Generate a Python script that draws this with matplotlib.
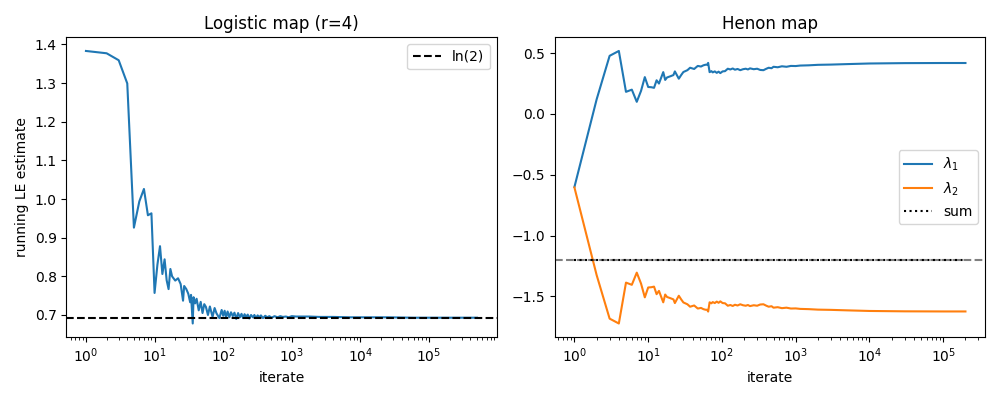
import matplotlib
matplotlib.use("Agg")
import matplotlib.pyplot as plt

# Logistic map (r=4): running Lyapunov exponent estimate
logistic_iter = [1, 2, 3, 4, 5, 6, 7, 8, 9, 10,
                 11, 12, 13, 14, 15, 16, 17, 18, 20, 22,
                 24, 26, 27, 29, 31, 33, 34, 36, 37, 39,
                 41, 44, 47, 50, 53, 56, 60, 64, 70, 75,
                 80, 88, 95, 100, 105, 110, 116, 123, 130, 138,
                 146, 155, 165, 175, 185, 195, 205, 215, 228, 240,
                 255, 270, 285, 300, 318, 335, 355, 380, 410, 440,
                 470, 510, 560, 620, 680, 740, 820, 900, 1000, 1150,
                 1400, 1800, 2500, 4000, 7000, 12000, 25000, 60000, 150000, 300000,
                 500000]
logistic_le = [1.383, 1.377, 1.359, 1.299, 0.926, 0.994, 1.026, 0.958, 0.963, 0.757,
               0.830, 0.878, 0.806, 0.844, 0.790, 0.767, 0.819, 0.800, 0.789, 0.795,
               0.780, 0.737, 0.775, 0.767, 0.755, 0.733, 0.752, 0.678, 0.746, 0.730,
               0.742, 0.712, 0.734, 0.705, 0.728, 0.721, 0.700, 0.722, 0.695, 0.718,
               0.704, 0.692, 0.713, 0.698, 0.711, 0.694, 0.709, 0.694, 0.707, 0.697,
               0.706, 0.690, 0.705, 0.694, 0.703, 0.692, 0.702, 0.695, 0.701, 0.691,
               0.700, 0.694, 0.700, 0.692, 0.699, 0.694, 0.699, 0.692, 0.698, 0.694,
               0.697, 0.693, 0.697, 0.694, 0.697, 0.695, 0.696, 0.694, 0.697, 0.696,
               0.696, 0.696, 0.695, 0.695, 0.694, 0.694, 0.694, 0.693, 0.693, 0.693,
               0.693]
ln2 = 0.693

# Henon map: running estimates of both exponents
henon_iter = [1, 2, 3, 4, 5, 6, 7, 8, 9, 10,
              11, 12, 13, 14, 16, 17, 18, 20, 22, 23,
              26, 28, 30, 34, 37, 42, 47, 52, 56, 60,
              63, 65, 68, 72, 75, 80, 85, 90, 95, 102,
              110, 120, 130, 140, 150, 163, 177, 193, 210, 225,
              240, 270, 300, 330, 365, 400, 430, 470, 500, 570,
              650, 750, 860, 1000, 1150, 1500, 2000, 3000, 5000, 10000,
              30000, 100000, 200000]
henon_l1 = [-0.600, 0.120, 0.478, 0.518, 0.182, 0.200, 0.100, 0.190, 0.303, 0.222,
            0.220, 0.215, 0.277, 0.250, 0.344, 0.280, 0.300, 0.310, 0.320, 0.350,
            0.290, 0.320, 0.345, 0.360, 0.380, 0.370, 0.395, 0.390, 0.400, 0.405,
            0.405, 0.420, 0.344, 0.352, 0.342, 0.350, 0.338, 0.348, 0.336, 0.350,
            0.352, 0.372, 0.366, 0.374, 0.364, 0.370, 0.360, 0.368, 0.372, 0.366,
            0.375, 0.368, 0.372, 0.362, 0.360, 0.372, 0.380, 0.376, 0.388, 0.384,
            0.392, 0.388, 0.395, 0.394, 0.398, 0.400, 0.404, 0.406, 0.410, 0.415,
            0.418, 0.419, 0.419]
henon_l2 = [-0.604, -1.324, -1.682, -1.722, -1.386, -1.404, -1.304, -1.394, -1.507, -1.426,
            -1.424, -1.419, -1.481, -1.454, -1.548, -1.484, -1.504, -1.514, -1.524, -1.554,
            -1.494, -1.524, -1.549, -1.564, -1.584, -1.574, -1.599, -1.594, -1.604, -1.609,
            -1.609, -1.624, -1.548, -1.556, -1.546, -1.554, -1.542, -1.552, -1.540, -1.554,
            -1.556, -1.576, -1.570, -1.578, -1.568, -1.574, -1.564, -1.572, -1.576, -1.570,
            -1.579, -1.572, -1.576, -1.566, -1.564, -1.576, -1.584, -1.580, -1.592, -1.588,
            -1.596, -1.592, -1.599, -1.598, -1.602, -1.604, -1.608, -1.610, -1.614, -1.619,
            -1.622, -1.623, -1.623]
sum_iter = [1, 200000]
sum_vals = [-1.204, -1.204]
log_det = -1.204

fig, (ax1, ax2) = plt.subplots(1, 2, figsize=(10, 4))

ax1.plot(logistic_iter, logistic_le)
ax1.axhline(ln2, color="k", ls="--", label="ln(2)")
ax1.set_xscale("log")
ax1.set_xlabel("iterate")
ax1.set_ylabel("running LE estimate")
ax1.set_title("Logistic map (r=4)")
ax1.legend(loc="upper right")

ax2.plot(henon_iter, henon_l1, label=r"$\lambda_1$")
ax2.plot(henon_iter, henon_l2, label=r"$\lambda_2$")
ax2.plot(sum_iter, sum_vals, "k:", label="sum")
ax2.axhline(log_det, color="k", ls="--", alpha=0.5)
ax2.set_xscale("log")
ax2.set_xlabel("iterate")
ax2.set_title("Henon map")
ax2.legend(loc="center right")

plt.tight_layout()
plt.savefig("out.png", dpi=100)
